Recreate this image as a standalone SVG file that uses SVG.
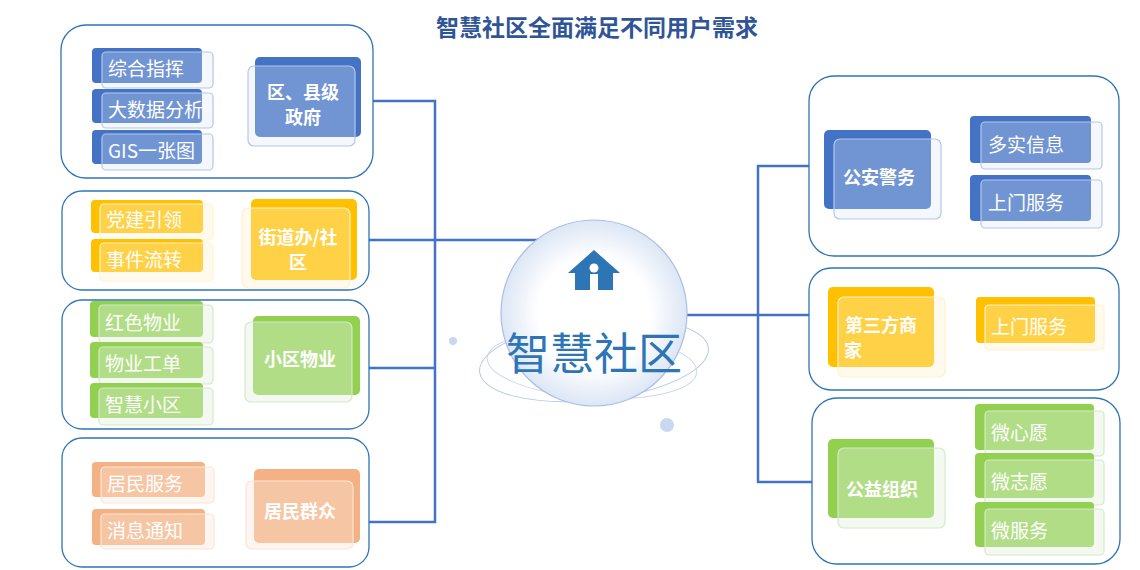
<svg xmlns="http://www.w3.org/2000/svg" width="1140" height="570" viewBox="0 0 1140 570">
<defs>
<radialGradient id="bub" cx="50%" cy="50%" r="50%">
<stop offset="0.6" stop-color="#ffffff"/>
<stop offset="1" stop-color="#DCE6F5"/>
</radialGradient>
<style>
text{font-family:"Noto Sans CJK SC","Noto Sans",sans-serif;fill:#fff}
.panel{fill:#fff;stroke:#2E75B6;stroke-width:1.3}
.ln{stroke:#4472C4;stroke-width:2.5;fill:none}
.bB{fill:#4472C4}.fB{fill:#DAE3F3;fill-opacity:.3;stroke:#B4C7E7;stroke-width:1.2}
.bY{fill:#FFC000}.fY{fill:#FFF2CC;fill-opacity:.35;stroke:#FFF2CC;stroke-width:1.2}
.bG{fill:#92D050}.fG{fill:#E2F0D9;fill-opacity:.4;stroke:#D5E8CB;stroke-width:1.2}
.bO{fill:#F4B183}.fO{fill:#FBE5D6;fill-opacity:.4;stroke:#FBE5D6;stroke-width:1.2}
.it{font-size:19px}
.mn{font-size:18px;font-weight:bold;text-anchor:middle}
</style>
</defs>
<text x="597" y="36" style="font-size:23px;font-weight:bold;fill:#2F5597;text-anchor:middle">智慧社区全面满足不同用户需求</text>

<g id="connectors">
<polyline class="ln" points="373,101 435,101 435,522 369,522"/>
<line class="ln" x1="369" y1="240" x2="543" y2="240"/>
<line class="ln" x1="369" y1="368" x2="435" y2="368"/>
<polyline class="ln" points="809,166 758,166 758,482 812,482"/>
<line class="ln" x1="687" y1="315" x2="812" y2="315"/>
</g>

<g id="center">
<circle cx="453" cy="341" r="4" fill="#C9D8EE"/>
<circle cx="667" cy="425" r="7" fill="#C9D8EE"/>
<ellipse cx="594" cy="360" rx="115" ry="40" fill="none" stroke="#B4C7E7" stroke-width="1" transform="rotate(-6 594 360)"/>
<ellipse cx="592" cy="365" rx="105" ry="33" fill="none" stroke="#C9D8EE" stroke-width="1" transform="rotate(4 592 365)"/>
<circle cx="594" cy="313" r="93" fill="url(#bub)" stroke="#A9BFE4" stroke-width="1.2"/>
<path d="M568,273 L594,250 L620,273 L613,273 L613,290 L575,290 L575,273 Z" fill="#2E75B6"/>
<circle cx="594" cy="268" r="4.5" fill="#fff"/>
<rect x="590" y="274" width="8" height="16" fill="#fff"/>
<text x="594" y="370" style="font-size:44px;fill:#2E75B6;text-anchor:middle">智慧社区</text>
</g>

<g id="p1">
<rect class="panel" x="61" y="25" width="312" height="153" rx="25"/>
<rect class="bB" x="92" y="48" width="110" height="35" rx="4"/><rect class="fB" x="102" y="52" width="111" height="36" rx="4"/><text class="it" x="108" y="76">综合指挥</text>
<rect class="bB" x="92" y="89" width="110" height="34" rx="4"/><rect class="fB" x="102" y="93" width="111" height="35" rx="4"/><text class="it" x="108" y="117">大数据分析</text>
<rect class="bB" x="92" y="130" width="110" height="34" rx="4"/><rect class="fB" x="102" y="134" width="111" height="36" rx="4"/><text class="it" x="108" y="158">GIS一张图</text>
<rect class="bB" x="255" y="57" width="106" height="80" rx="5"/><rect class="fB" x="248" y="66" width="107" height="80" rx="6"/>
<text class="mn" x="303" y="99">区、县级</text><text class="mn" x="303" y="124">政府</text>
</g>

<g id="p2">
<rect class="panel" x="62" y="191" width="307" height="99" rx="20"/>
<rect class="bY" x="91" y="200" width="112" height="33" rx="4"/><rect class="fY" x="100" y="204" width="113" height="36" rx="4"/><text class="it" x="106" y="227">党建引领</text>
<rect class="bY" x="91" y="239" width="112" height="33" rx="4"/><rect class="fY" x="100" y="243" width="113" height="38" rx="4"/><text class="it" x="106" y="267">事件流转</text>
<rect class="bY" x="251" y="199" width="106" height="81" rx="5"/><rect class="fY" x="242" y="208" width="108" height="80" rx="6"/>
<text class="mn" x="298" y="244">街道办/社</text><text class="mn" x="298" y="269">区</text>
</g>

<g id="p3">
<rect class="panel" x="62" y="300" width="307" height="129" rx="20"/>
<rect class="bG" x="90" y="301" width="113" height="36" rx="4"/><rect class="fG" x="99" y="305" width="114" height="38" rx="4"/><text class="it" x="105" y="330">红色物业</text>
<rect class="bG" x="90" y="342" width="113" height="36" rx="4"/><rect class="fG" x="99" y="347" width="114" height="37" rx="4"/><text class="it" x="105" y="371">物业工单</text>
<rect class="bG" x="90" y="383" width="113" height="35" rx="4"/><rect class="fG" x="99" y="388" width="114" height="37" rx="4"/><text class="it" x="105" y="412">智慧小区</text>
<rect class="bG" x="253" y="316" width="107" height="79" rx="5"/><rect class="fG" x="245" y="322" width="107" height="80" rx="6"/>
<text class="mn" x="300" y="366">小区物业</text>
</g>

<g id="p4">
<rect class="panel" x="62" y="438" width="307" height="129" rx="20"/>
<rect class="bO" x="92" y="462" width="113" height="35" rx="4"/><rect class="fO" x="101" y="467" width="113" height="36" rx="4"/><text class="it" x="107" y="491">居民服务</text>
<rect class="bO" x="92" y="509" width="113" height="36" rx="4"/><rect class="fO" x="101" y="514" width="113" height="35" rx="4"/><text class="it" x="107" y="538">消息通知</text>
<rect class="bO" x="254" y="469" width="106" height="74" rx="5"/><rect class="fO" x="246" y="481" width="107" height="68" rx="6"/>
<text class="mn" x="300" y="518">居民群众</text>
</g>

<g id="r1">
<rect class="panel" x="809" y="76" width="310" height="180" rx="25"/>
<rect class="bB" x="824" y="130" width="107" height="79" rx="5"/><rect class="fB" x="834" y="139" width="107" height="80" rx="6"/>
<text class="mn" x="879" y="184">公安警务</text>
<rect class="bB" x="970" y="116" width="121" height="47" rx="4"/><rect class="fB" x="981" y="122" width="121" height="47" rx="4"/><text class="it" x="988" y="152">多实信息</text>
<rect class="bB" x="970" y="175" width="121" height="46" rx="4"/><rect class="fB" x="981" y="180" width="121" height="48" rx="4"/><text class="it" x="988" y="210">上门服务</text>
</g>

<g id="r2">
<rect class="panel" x="809" y="268" width="310" height="122" rx="22"/>
<rect class="bY" x="828" y="287" width="106" height="80" rx="5"/><rect class="fY" x="838" y="297" width="107" height="80" rx="6"/>
<text class="mn" x="881" y="332">第三方商</text><text x="844" y="357" style="font-size:18px;font-weight:bold">家</text>
<rect class="bY" x="976" y="297" width="119" height="46" rx="4"/><rect class="fY" x="985" y="305" width="119" height="45" rx="4"/><text class="it" x="991" y="334">上门服务</text>
</g>

<g id="r3">
<rect class="panel" x="812" y="398" width="308" height="166" rx="25"/>
<rect class="bG" x="828" y="439" width="106" height="79" rx="5"/><rect class="fG" x="838" y="448" width="107" height="80" rx="6"/>
<text class="mn" x="882" y="496">公益组织</text>
<rect class="bG" x="975" y="404" width="119" height="46" rx="4"/><rect class="fG" x="985" y="411" width="119" height="45" rx="4"/><text class="it" x="991" y="440">微心愿</text>
<rect class="bG" x="975" y="453" width="119" height="45" rx="4"/><rect class="fG" x="985" y="460" width="119" height="45" rx="4"/><text class="it" x="991" y="489">微志愿</text>
<rect class="bG" x="975" y="502" width="119" height="45" rx="4"/><rect class="fG" x="985" y="509" width="119" height="46" rx="4"/><text class="it" x="991" y="538">微服务</text>
</g>
</svg>
